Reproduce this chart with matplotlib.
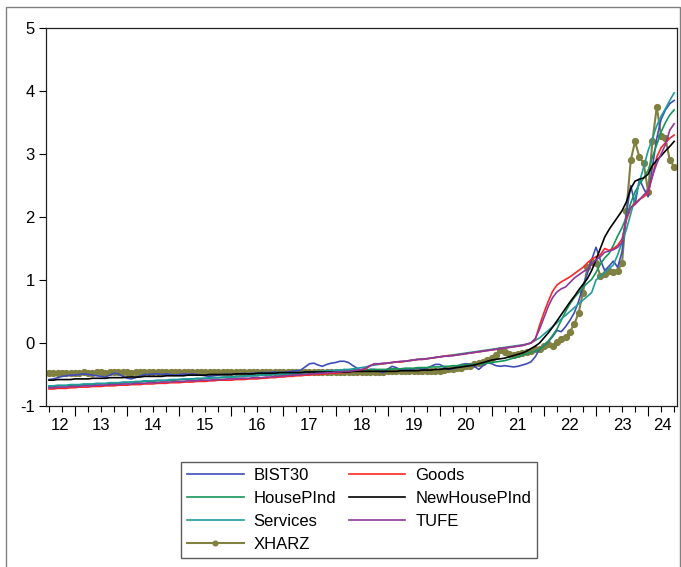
import numpy as np
import matplotlib
matplotlib.use("Agg")
import matplotlib.pyplot as plt
from matplotlib.patches import Rectangle

plt.rcParams["font.family"] = ["Liberation Sans", "DejaVu Sans"]
plt.rcParams["axes.unicode_minus"] = False

# monthly observations, 2012M07 .. 2024M07
START_YEAR, START_MONTH = 2012, 7

BIST30 = [
    -0.58, -0.57, -0.55, -0.53, -0.52, -0.51,
    -0.51, -0.50, -0.49, -0.50, -0.51, -0.52, -0.53, -0.54, -0.51, -0.48, -0.49, -0.53,
    -0.56, -0.57, -0.55, -0.52, -0.50, -0.50, -0.49, -0.49, -0.50, -0.49, -0.50, -0.51,
    -0.50, -0.49, -0.50, -0.49, -0.50, -0.51, -0.52, -0.53, -0.52, -0.51, -0.50, -0.50,
    -0.50, -0.49, -0.49, -0.48, -0.49, -0.48, -0.48, -0.47, -0.47, -0.47, -0.46, -0.47,
    -0.47, -0.46, -0.45, -0.44, -0.43, -0.38, -0.33, -0.32, -0.35, -0.37, -0.34, -0.32,
    -0.31, -0.29, -0.29, -0.31, -0.36, -0.40, -0.44, -0.44, -0.42, -0.42, -0.45, -0.47,
    -0.42, -0.37, -0.39, -0.43, -0.43, -0.43, -0.41, -0.40, -0.42, -0.40, -0.37, -0.34,
    -0.34, -0.38, -0.42, -0.41, -0.37, -0.34, -0.33, -0.34, -0.37, -0.42, -0.36, -0.31,
    -0.33, -0.36, -0.37, -0.36, -0.37, -0.38, -0.37, -0.35, -0.33, -0.30, -0.22, -0.10,
    -0.04, 0.02, 0.10, 0.20, 0.18, 0.26, 0.36, 0.48, 0.66, 0.90, 1.10, 1.32,
    1.52, 1.32, 1.15, 1.22, 1.30, 1.20, 1.45, 2.05, 2.50, 2.20, 2.60, 2.45,
    2.32, 2.80, 3.25, 3.55, 3.70, 3.80, 3.85,
]

GOODS = [
    -0.73, -0.73, -0.72, -0.72, -0.72, -0.71,
    -0.71, -0.70, -0.70, -0.70, -0.69, -0.69, -0.69, -0.68, -0.68, -0.68, -0.67, -0.67,
    -0.67, -0.66, -0.66, -0.66, -0.65, -0.65, -0.65, -0.64, -0.64, -0.64, -0.63, -0.63,
    -0.63, -0.62, -0.62, -0.62, -0.61, -0.61, -0.61, -0.60, -0.60, -0.59, -0.59, -0.59,
    -0.59, -0.58, -0.58, -0.58, -0.57, -0.57, -0.57, -0.56, -0.56, -0.55, -0.55, -0.54,
    -0.54, -0.53, -0.53, -0.52, -0.52, -0.51, -0.51, -0.50, -0.50, -0.49, -0.49, -0.48,
    -0.48, -0.47, -0.47, -0.46, -0.45, -0.44, -0.43, -0.41, -0.36, -0.33, -0.33, -0.33,
    -0.32, -0.31, -0.30, -0.30, -0.29, -0.28, -0.27, -0.26, -0.26, -0.25, -0.24, -0.23,
    -0.22, -0.21, -0.20, -0.20, -0.19, -0.18, -0.17, -0.16, -0.15, -0.14, -0.13, -0.12,
    -0.11, -0.10, -0.09, -0.08, -0.07, -0.06, -0.05, -0.04, -0.02, 0.00, 0.05, 0.28,
    0.48, 0.66, 0.82, 0.92, 0.97, 1.01, 1.05, 1.10, 1.15, 1.20, 1.27, 1.33,
    1.37, 1.40, 1.50, 1.47, 1.50, 1.55, 1.65, 1.95, 2.15, 2.22, 2.28, 2.32,
    2.38, 2.65, 2.95, 3.10, 3.18, 3.25, 3.30,
]

HOUSEPIND = [
    -0.69, -0.69, -0.68, -0.68, -0.68, -0.67,
    -0.67, -0.67, -0.66, -0.66, -0.66, -0.65, -0.65, -0.65, -0.64, -0.64, -0.64, -0.63,
    -0.63, -0.62, -0.62, -0.62, -0.61, -0.61, -0.61, -0.60, -0.60, -0.60, -0.59, -0.59,
    -0.58, -0.58, -0.58, -0.57, -0.57, -0.57, -0.56, -0.56, -0.55, -0.55, -0.55, -0.54,
    -0.54, -0.54, -0.53, -0.53, -0.52, -0.52, -0.52, -0.51, -0.51, -0.50, -0.50, -0.50,
    -0.49, -0.49, -0.48, -0.48, -0.48, -0.47, -0.47, -0.46, -0.46, -0.46, -0.45, -0.45,
    -0.45, -0.44, -0.44, -0.44, -0.43, -0.43, -0.43, -0.43, -0.42, -0.42, -0.42, -0.42,
    -0.42, -0.41, -0.41, -0.41, -0.40, -0.40, -0.40, -0.39, -0.39, -0.39, -0.38, -0.38,
    -0.38, -0.37, -0.37, -0.36, -0.36, -0.35, -0.35, -0.34, -0.34, -0.33, -0.33, -0.32,
    -0.31, -0.30, -0.29, -0.28, -0.26, -0.24, -0.22, -0.20, -0.17, -0.15, -0.13, -0.10,
    -0.04, 0.03, 0.12, 0.22, 0.36, 0.50, 0.62, 0.72, 0.80, 0.88, 0.95, 1.01,
    1.12, 1.25, 1.35, 1.42, 1.55, 1.70, 1.83, 2.00, 2.22, 2.40, 2.52, 2.62,
    2.74, 2.95, 3.15, 3.35, 3.50, 3.62, 3.70,
]

NEWHOUSEPIND = [
    -0.59, -0.59, -0.58, -0.58, -0.58, -0.58,
    -0.57, -0.57, -0.57, -0.57, -0.56, -0.56, -0.56, -0.56, -0.55, -0.55, -0.55, -0.55,
    -0.54, -0.54, -0.54, -0.54, -0.53, -0.53, -0.53, -0.53, -0.53, -0.52, -0.52, -0.52,
    -0.52, -0.52, -0.51, -0.51, -0.51, -0.51, -0.51, -0.50, -0.50, -0.50, -0.50, -0.50,
    -0.50, -0.49, -0.49, -0.49, -0.49, -0.49, -0.48, -0.48, -0.48, -0.48, -0.48, -0.47,
    -0.47, -0.47, -0.47, -0.47, -0.47, -0.46, -0.46, -0.46, -0.46, -0.46, -0.46, -0.46,
    -0.46, -0.46, -0.46, -0.46, -0.45, -0.45, -0.45, -0.45, -0.45, -0.45, -0.45, -0.45,
    -0.45, -0.45, -0.45, -0.44, -0.44, -0.44, -0.44, -0.44, -0.43, -0.43, -0.43, -0.42,
    -0.42, -0.41, -0.41, -0.40, -0.39, -0.38, -0.37, -0.36, -0.35, -0.33, -0.31, -0.29,
    -0.27, -0.26, -0.25, -0.24, -0.22, -0.20, -0.18, -0.16, -0.13, -0.09, -0.05, 0.00,
    0.08, 0.16, 0.25, 0.35, 0.45, 0.55, 0.65, 0.74, 0.84, 0.93, 1.02, 1.15,
    1.32, 1.50, 1.68, 1.80, 1.90, 2.00, 2.10, 2.24, 2.45, 2.57, 2.60, 2.62,
    2.68, 2.82, 2.90, 2.97, 3.05, 3.12, 3.20,
]

SERVICES = [
    -0.68, -0.68, -0.67, -0.67, -0.67, -0.66,
    -0.66, -0.66, -0.65, -0.65, -0.65, -0.64, -0.64, -0.64, -0.63, -0.63, -0.63, -0.62,
    -0.62, -0.62, -0.61, -0.61, -0.60, -0.60, -0.60, -0.59, -0.59, -0.59, -0.58, -0.58,
    -0.58, -0.57, -0.57, -0.57, -0.56, -0.56, -0.56, -0.55, -0.55, -0.55, -0.54, -0.54,
    -0.54, -0.53, -0.53, -0.53, -0.52, -0.52, -0.51, -0.51, -0.51, -0.50, -0.50, -0.49,
    -0.49, -0.49, -0.48, -0.48, -0.47, -0.47, -0.46, -0.46, -0.45, -0.45, -0.44, -0.44,
    -0.43, -0.43, -0.42, -0.42, -0.41, -0.40, -0.39, -0.38, -0.36, -0.35, -0.34, -0.33,
    -0.32, -0.31, -0.30, -0.30, -0.29, -0.28, -0.27, -0.26, -0.25, -0.25, -0.24, -0.23,
    -0.22, -0.21, -0.20, -0.19, -0.18, -0.17, -0.16, -0.15, -0.14, -0.13, -0.12, -0.11,
    -0.10, -0.09, -0.08, -0.07, -0.06, -0.05, -0.04, -0.03, -0.02, 0.00, 0.04, 0.08,
    0.14, 0.20, 0.26, 0.32, 0.38, 0.44, 0.50, 0.56, 0.62, 0.68, 0.74, 0.80,
    1.00, 1.06, 1.12, 1.18, 1.24, 1.40, 1.60, 1.80, 2.05, 2.30, 2.55, 2.80,
    3.05, 3.25, 3.45, 3.60, 3.72, 3.85, 3.97,
]

TUFE = [
    -0.71, -0.71, -0.70, -0.70, -0.70, -0.69,
    -0.69, -0.69, -0.68, -0.68, -0.68, -0.67, -0.67, -0.67, -0.66, -0.66, -0.66, -0.65,
    -0.65, -0.65, -0.64, -0.64, -0.64, -0.63, -0.63, -0.63, -0.62, -0.62, -0.62, -0.61,
    -0.61, -0.61, -0.60, -0.60, -0.60, -0.59, -0.59, -0.59, -0.58, -0.58, -0.58, -0.57,
    -0.57, -0.57, -0.56, -0.56, -0.56, -0.55, -0.55, -0.55, -0.54, -0.54, -0.53, -0.53,
    -0.52, -0.52, -0.51, -0.51, -0.50, -0.50, -0.49, -0.49, -0.48, -0.48, -0.47, -0.47,
    -0.46, -0.46, -0.45, -0.45, -0.44, -0.43, -0.42, -0.40, -0.36, -0.33, -0.33, -0.32,
    -0.32, -0.31, -0.30, -0.29, -0.29, -0.28, -0.27, -0.26, -0.26, -0.25, -0.24, -0.23,
    -0.22, -0.21, -0.21, -0.20, -0.19, -0.18, -0.17, -0.16, -0.15, -0.14, -0.13, -0.12,
    -0.11, -0.10, -0.09, -0.08, -0.07, -0.06, -0.05, -0.04, -0.02, 0.00, 0.07, 0.22,
    0.40, 0.58, 0.72, 0.81, 0.86, 0.89, 0.96, 1.03, 1.08, 1.13, 1.17, 1.25,
    1.32, 1.37, 1.44, 1.46, 1.48, 1.52, 1.60, 2.00, 2.15, 2.20, 2.27, 2.35,
    2.42, 2.65, 2.85, 3.00, 3.15, 3.38, 3.48,
]

XHARZ = [
    -0.47, -0.47, -0.47, -0.47, -0.47, -0.47,
    -0.47, -0.47, -0.46, -0.47, -0.47, -0.46, -0.46, -0.47, -0.46, -0.46, -0.46, -0.46,
    -0.46, -0.47, -0.46, -0.46, -0.46, -0.46, -0.46, -0.46, -0.46, -0.46, -0.46, -0.46,
    -0.46, -0.46, -0.46, -0.46, -0.46, -0.46, -0.46, -0.46, -0.46, -0.46, -0.46, -0.46,
    -0.46, -0.46, -0.46, -0.46, -0.46, -0.46, -0.46, -0.46, -0.46, -0.46, -0.46, -0.46,
    -0.46, -0.46, -0.46, -0.46, -0.46, -0.46, -0.46, -0.46, -0.46, -0.46, -0.46, -0.46,
    -0.46, -0.46, -0.46, -0.46, -0.46, -0.46, -0.46, -0.46, -0.46, -0.46, -0.46, -0.46,
    -0.45, -0.45, -0.45, -0.45, -0.45, -0.45, -0.45, -0.44, -0.44, -0.44, -0.44, -0.44,
    -0.44, -0.43, -0.42, -0.41, -0.40, -0.39, -0.37, -0.36, -0.34, -0.32, -0.30, -0.27,
    -0.24, -0.19, -0.11, -0.15, -0.18, -0.19, -0.18, -0.16, -0.14, -0.12, -0.10, -0.09,
    -0.05, -0.02, -0.04, 0.02, 0.06, 0.10, 0.18, 0.30, 0.48, 0.80, 1.20, 1.28,
    1.27, 1.07, 1.10, 1.15, 1.13, 1.15, 1.27, 2.10, 2.90, 3.20, 2.95, 2.85,
    2.40, 3.20, 3.75, 3.28, 3.25, 2.90, 2.80,
]

SERIES = [
    # (label, values, colour) in legend fill order (column-wise, 2 columns)
    ("BIST30", BIST30, "#3F4DB8"),
    ("HousePInd", HOUSEPIND, "#16975A"),
    ("Services", SERVICES, "#1F9C9C"),
    ("XHARZ", XHARZ, "#808040"),
    ("Goods", GOODS, "#FF2626"),
    ("NewHousePInd", NEWHOUSEPIND, "#000000"),
    ("TUFE", TUFE, "#8A3A9C"),
]

YEARS = list(range(2012, 2025))
YEAR_LABELS = [str(y % 100) for y in YEARS]

n = len(XHARZ)
t = START_YEAR + (START_MONTH - 1) / 12 + np.arange(n) / 12.0
x_lo, x_hi = t[0] - 0.057, t[-1] + 0.055

fig = plt.figure(figsize=(6.81, 5.67), dpi=100)
ax = fig.add_axes([46 / 681, 1 - 406 / 567, (677 - 46) / 681, (406 - 28) / 567])

# XHARZ underneath the other lines
for label, vals, col in SERIES:
    if label == "XHARZ":
        ax.plot(t, vals, color=col, lw=1.5, marker="o", ms=4.2,
                mec=col, mfc=col, label=label, zorder=2)
    else:
        ax.plot(t, vals, color=col, lw=1.2, label=label, zorder=3)

ax.set_xlim(x_lo, x_hi)
ax.set_ylim(-1, 5)
ax.set_yticks(range(-1, 6))
ax.tick_params(axis="y", direction="out", length=5, width=0.8, labelsize=12, pad=3)

# year boundaries as major ticks, quarters as minor ticks
ax.set_xticks(YEARS[1:])
ax.set_xticklabels([])
quarters = [q for y in YEARS for q in (y + 0.25, y + 0.5, y + 0.75)
            if x_lo <= q <= x_hi]
ax.set_xticks(quarters, minor=True)
ax.tick_params(axis="x", which="major", direction="out", length=7, width=0.8)
ax.tick_params(axis="x", which="minor", direction="out", length=4, width=0.8)

# year labels centred within each (visible part of a) year
label_pos = [(max(y, x_lo) + min(y + 1, x_hi)) / 2 for y in YEARS]
sec = ax.secondary_xaxis("bottom")
sec.set_xticks(label_pos, YEAR_LABELS)
sec.tick_params(length=0, labelsize=12, pad=9)
sec.spines["bottom"].set_visible(False)

for sp in ax.spines.values():
    sp.set_linewidth(0.9)
    sp.set_color("#222222")

handles, labels = ax.get_legend_handles_labels()
leg = fig.legend(handles, labels, ncol=2, loc="upper left",
                 bbox_to_anchor=(181 / 681, 1 - 462 / 567), borderaxespad=0,
                 fontsize=12, frameon=True, fancybox=False, edgecolor="#333333",
                 handlelength=3.4, handletextpad=0.6, columnspacing=0.75,
                 labelspacing=0.48, borderpad=0.35, markerscale=0.8)
leg.get_frame().set_linewidth(1.0)

# outer frame of the graph window
fig.patches.append(Rectangle((6 / 681, -0.05), 674 / 681, 1.05 - 7 / 567,
                             transform=fig.transFigure, fill=False,
                             edgecolor="#808080", lw=1.0))

fig.savefig("out.png", dpi=100)
